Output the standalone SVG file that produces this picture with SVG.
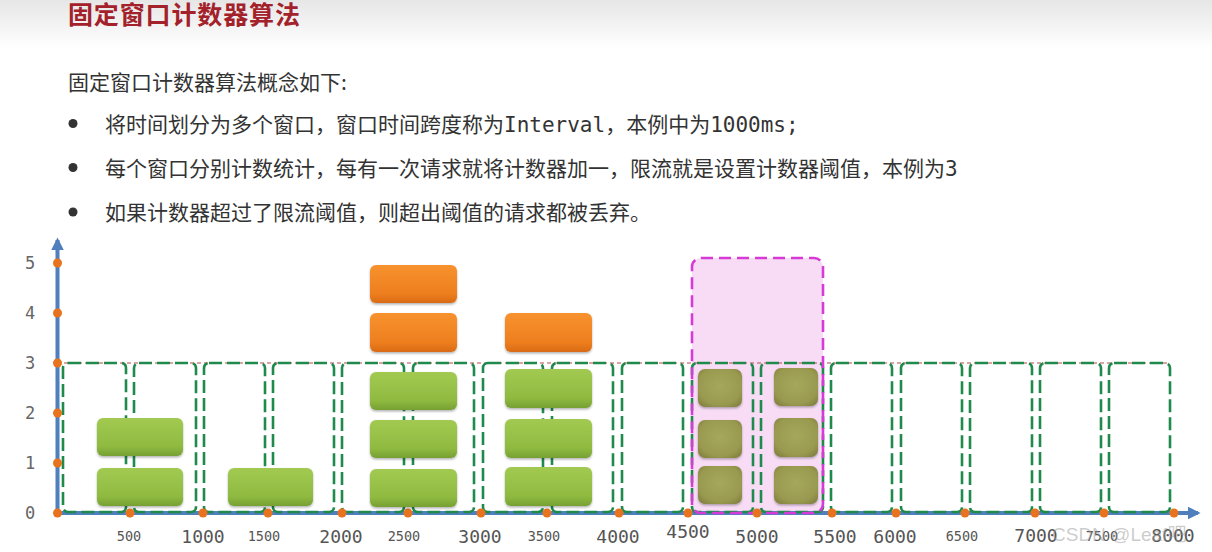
<svg xmlns="http://www.w3.org/2000/svg" width="1212" height="552" viewBox="0 0 1212 552">
<defs>
<linearGradient id="hdr" x1="0" y1="0" x2="0" y2="1"><stop offset="0" stop-color="#e6e6e6"/><stop offset="1" stop-color="#ffffff"/></linearGradient>
<linearGradient id="gGreen" x1="0" y1="0" x2="0" y2="1"><stop offset="0" stop-color="#a2ca52"/><stop offset="0.75" stop-color="#8fba40"/><stop offset="1" stop-color="#76a032"/></linearGradient>
<linearGradient id="gOrange" x1="0" y1="0" x2="0" y2="1"><stop offset="0" stop-color="#f7922f"/><stop offset="0.75" stop-color="#ee7f1f"/><stop offset="1" stop-color="#d96a14"/></linearGradient>
<radialGradient id="gOlive" cx="0.5" cy="0.45" r="0.7"><stop offset="0" stop-color="#a5a85c"/><stop offset="0.7" stop-color="#999a50"/><stop offset="1" stop-color="#7f7d3e"/></radialGradient>
<filter id="sh" x="-10%" y="-10%" width="120%" height="130%"><feDropShadow dx="0" dy="1.5" stdDeviation="1.2" flood-color="#000" flood-opacity="0.3"/></filter>
<marker id="arr" viewBox="0 0 10 10" refX="8" refY="5" markerWidth="3.2" markerHeight="3.2" orient="auto"><path d="M0,0 L10,5 L0,10 z" fill="#4f7fbd"/></marker>
<style>
.win{fill:none;stroke:#1f8a4c;stroke-width:2.6;stroke-dasharray:13 5}
.green{fill:url(#gGreen);filter:url(#sh)}
.orange{fill:url(#gOrange);filter:url(#sh)}
.olive{fill:url(#gOlive);filter:url(#sh)}
.dot{fill:#e8731e}
.ylab{font-family:"DejaVu Sans Mono",monospace;font-size:17px;fill:#666;text-anchor:middle}
.xl{font-family:"DejaVu Sans Mono",monospace;font-size:18px;fill:#555;text-anchor:middle}
.xs{font-family:"DejaVu Sans Mono",monospace;font-size:13.5px;fill:#555;text-anchor:middle}
.body{font-family:"Noto Sans CJK SC","Noto Sans",sans-serif;font-size:21px;fill:#333}
.mono{font-family:"DejaVu Sans Mono",monospace}
</style>
</defs>
<rect x="0" y="0" width="1212" height="552" fill="#ffffff"/>
<rect x="0" y="0" width="1212" height="48" fill="url(#hdr)"/>
<g id="title"><text x="68" y="24" font-family="Noto Sans CJK SC, sans-serif" font-size="25" font-weight="bold" fill="#a3212a" textLength="232">固定窗口计数器算法</text></g>
<g id="intro">
<text class="body" x="68" y="90">固定窗口计数器算法概念如下:</text>
<circle cx="73" cy="123.5" r="4.5" fill="#333"/>
<text class="body" x="105" y="131.5">将时间划分为多个窗口，窗口时间跨度称为<tspan class="mono">Interval</tspan>，本例中为<tspan class="mono">1000ms;</tspan></text>
<circle cx="73" cy="167.5" r="4.5" fill="#333"/>
<text class="body" x="105" y="175.5">每个窗口分别计数统计，每有一次请求就将计数器加一，限流就是设置计数器阈值，本例为<tspan class="mono">3</tspan></text>
<circle cx="73" cy="212" r="4.5" fill="#333"/>
<text class="body" x="105" y="220">如果计数器超过了限流阈值，则超出阈值的请求都被丢弃。</text>
</g>
<g id="reject-zone-fill"><rect x="692" y="258" width="131" height="255" rx="9" fill="#f7d6f5" fill-opacity="0.85"/></g>
<g id="connectors">
<line x1="57.5" y1="515" x2="57.5" y2="240" stroke="#4f7fbd" stroke-width="4" marker-end="url(#arr)"/>
<line x1="55.5" y1="513" x2="1198" y2="513" stroke="#4f7fbd" stroke-width="4" marker-end="url(#arr)"/>
<line x1="57" y1="363" x2="1170" y2="363" stroke="#b5484a" stroke-width="1" stroke-dasharray="4 3"/>
</g>
<g id="windows">
<rect class="win" x="63" y="363" width="63" height="149" rx="5"/>
<rect class="win" x="134" y="363" width="62" height="149" rx="5"/>
<rect class="win" x="204" y="363" width="61" height="149" rx="5"/>
<rect class="win" x="273" y="363" width="61" height="149" rx="5"/>
<rect class="win" x="342" y="363" width="62" height="149" rx="5"/>
<rect class="win" x="413" y="363" width="61" height="149" rx="5"/>
<rect class="win" x="483" y="363" width="60" height="149" rx="5"/>
<rect class="win" x="552" y="363" width="61" height="149" rx="5"/>
<rect class="win" x="622" y="363" width="61" height="149" rx="5"/>
<rect class="win" x="692" y="363" width="61" height="149" rx="5"/>
<rect class="win" x="761" y="363" width="62" height="149" rx="5"/>
<rect class="win" x="831" y="363" width="61" height="149" rx="5"/>
<rect class="win" x="901" y="363" width="61" height="149" rx="5"/>
<rect class="win" x="970" y="363" width="62" height="149" rx="5"/>
<rect class="win" x="1040" y="363" width="61" height="149" rx="5"/>
<rect class="win" x="1109" y="363" width="61" height="149" rx="5"/>
</g>
<g id="reject-zone"><rect x="692" y="258" width="131" height="255" rx="9" fill="none" stroke="#d63bd6" stroke-width="2.6" stroke-dasharray="12 6"/></g>
<g id="dots">
<circle class="dot" cx="57.5" cy="263" r="4.5"/>
<circle class="dot" cx="57.5" cy="313" r="4.5"/>
<circle class="dot" cx="57.5" cy="363" r="4.5"/>
<circle class="dot" cx="57.5" cy="413" r="4.5"/>
<circle class="dot" cx="57.5" cy="463" r="4.5"/>
<circle class="dot" cx="57.5" cy="513" r="4.5"/>
<circle class="dot" cx="130" cy="513" r="4.5"/>
<circle class="dot" cx="203" cy="513" r="4.5"/>
<circle class="dot" cx="268" cy="513" r="4.5"/>
<circle class="dot" cx="342" cy="513" r="4.5"/>
<circle class="dot" cx="408" cy="513" r="4.5"/>
<circle class="dot" cx="481" cy="513" r="4.5"/>
<circle class="dot" cx="547" cy="513" r="4.5"/>
<circle class="dot" cx="619" cy="513" r="4.5"/>
<circle class="dot" cx="688" cy="513" r="4.5"/>
<circle class="dot" cx="757" cy="513" r="4.5" fill="#e0436e"/>
<circle class="dot" cx="832" cy="513" r="4.5"/>
<circle class="dot" cx="896" cy="513" r="4.5"/>
<circle class="dot" cx="965" cy="513" r="4.5"/>
<circle class="dot" cx="1035" cy="513" r="4.5"/>
<circle class="dot" cx="1104" cy="513" r="4.5"/>
<circle class="dot" cx="1174" cy="513" r="4.5"/>
</g>
<g id="win1-requests"><rect class="green" x="97" y="418" width="86" height="38" rx="6"/><rect class="green" x="97" y="468" width="86" height="38" rx="6"/></g>
<g id="win3-requests"><rect class="green" x="228" y="468" width="85" height="38" rx="6"/></g>
<g id="win5-requests">
<rect class="orange" x="370" y="265" width="87" height="38" rx="6"/>
<rect class="orange" x="370" y="313" width="87" height="39" rx="6"/>
<rect class="green" x="370" y="372" width="87" height="38" rx="6"/>
<rect class="green" x="370" y="420" width="87" height="38" rx="6"/>
<rect class="green" x="370" y="469" width="87" height="38" rx="6"/>
</g>
<g id="win7-requests">
<rect class="orange" x="505" y="313" width="87" height="39" rx="6"/>
<rect class="green" x="505" y="369" width="87" height="39" rx="6"/>
<rect class="green" x="505" y="419" width="87" height="39" rx="6"/>
<rect class="green" x="505" y="467" width="87" height="39" rx="6"/>
</g>
<g id="win10-requests">
<rect class="olive" x="698" y="369" width="44" height="38" rx="7"/>
<rect class="olive" x="698" y="420" width="44" height="38" rx="7"/>
<rect class="olive" x="698" y="466" width="44" height="38" rx="7"/>
</g>
<g id="win11-requests">
<rect class="olive" x="774" y="368" width="44" height="38" rx="7"/>
<rect class="olive" x="774" y="418" width="44" height="39" rx="7"/>
<rect class="olive" x="774" y="466" width="44" height="38" rx="7"/>
</g>
<g id="y-labels">
<text class="ylab" x="30" y="269">5</text>
<text class="ylab" x="30" y="319">4</text>
<text class="ylab" x="30" y="369">3</text>
<text class="ylab" x="30" y="419">2</text>
<text class="ylab" x="30" y="469">1</text>
<text class="ylab" x="30" y="519">0</text>
</g>
<g id="x-labels">
<text class="xs" x="129" y="541">500</text>
<text class="xl" x="203" y="543">1000</text>
<text class="xs" x="264" y="541">1500</text>
<text class="xl" x="341" y="543">2000</text>
<text class="xs" x="404" y="541">2500</text>
<text class="xl" x="480" y="543">3000</text>
<text class="xs" x="544" y="541">3500</text>
<text class="xl" x="618" y="543">4000</text>
<text class="xl" x="688" y="538">4500</text>
<text class="xl" x="757" y="543">5000</text>
<text class="xl" x="835" y="543">5500</text>
<text class="xl" x="895" y="543">6000</text>
<text class="xs" x="962" y="541">6500</text>
<text class="xl" x="1036" y="542">7000</text>
<text class="xs" x="1102" y="541">7500</text>
<text class="xl" x="1173" y="542">8000</text>
</g>
<g id="watermark"><text x="1052" y="541" font-family="Liberation Sans, Noto Sans CJK SC, sans-serif" font-size="19" fill="#9a9a9a" fill-opacity="0.5">CSDN @Leaf吧</text></g>
</svg>
